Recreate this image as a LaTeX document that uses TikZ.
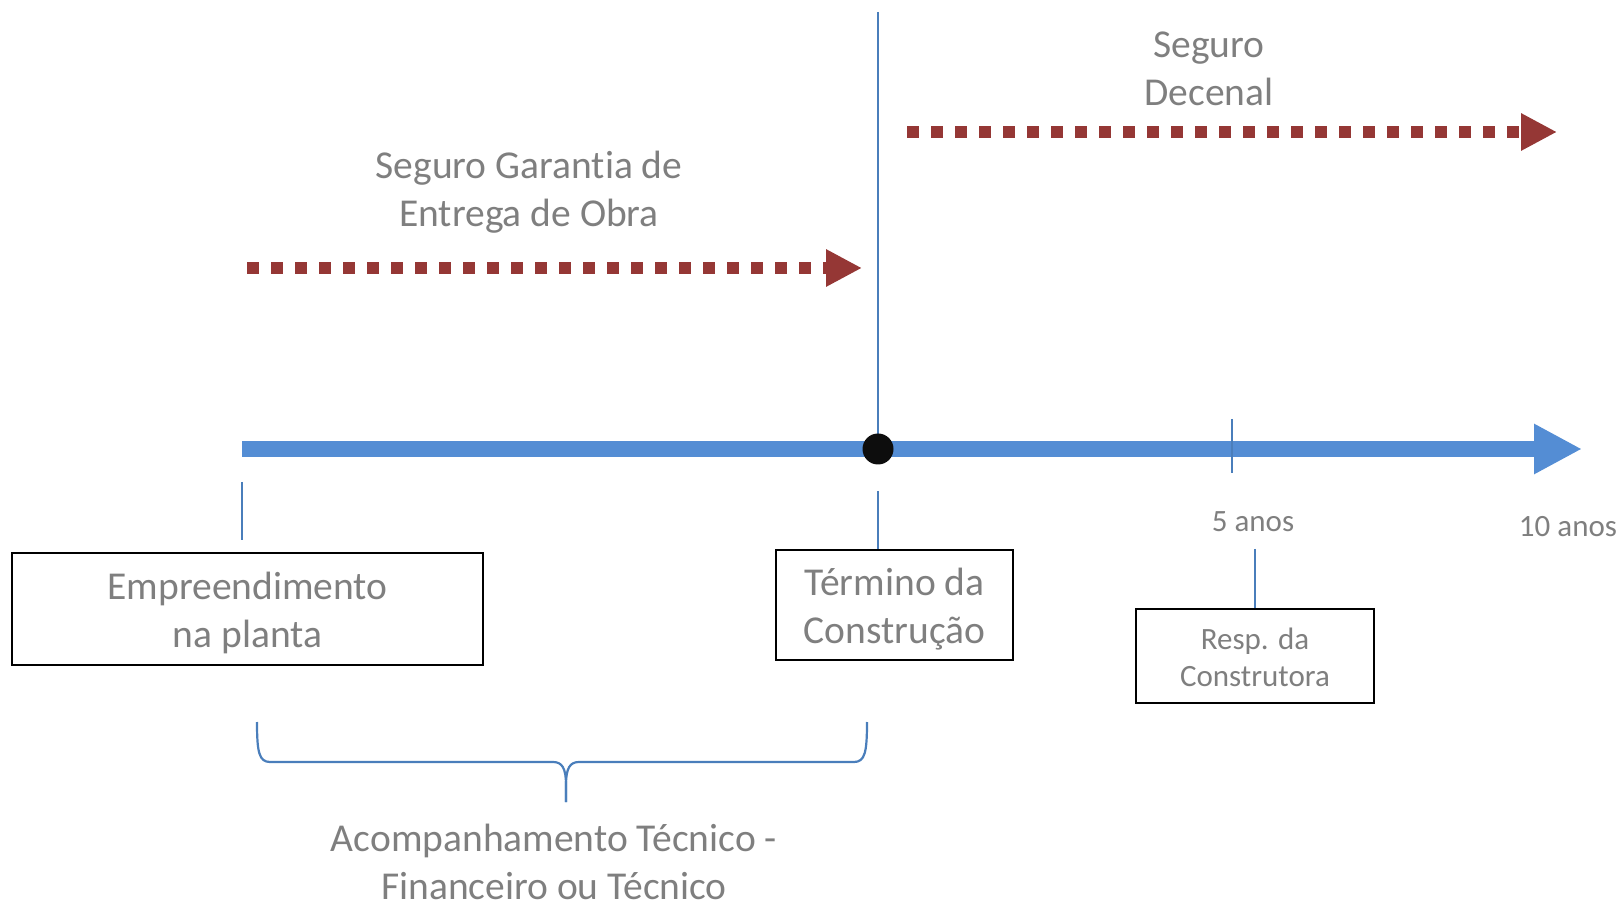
\documentclass[tikz,border=0pt]{standalone}
\usepackage{fontspec}
\setmainfont{Carlito}[Ligatures=NoCommon]
\usetikzlibrary{arrows.meta}
\definecolor{lineblue}{RGB}{84,141,212}
\definecolor{tickblue}{RGB}{74,126,187}
\definecolor{darkred}{RGB}{149,55,53}
\definecolor{textgray}{RGB}{127,127,127}
\begin{document}
\begin{tikzpicture}[x=0.5pt,y=-0.5pt]
\tikzset{
big text/.style={text=textgray,font=\fontsize{19.75pt}{24pt}\selectfont,align=center,inner sep=0},
small text/.style={text=textgray,font=\fontsize{15.5pt}{18.5pt}\selectfont,align=center,inner sep=0},
box node/.style={draw=black,line width=1.2pt,inner sep=0},
tick line/.style={draw=tickblue,line width=1pt},
dot arrow/.style={draw=darkred,line width=6pt,dash pattern=on 6pt off 6pt,-{Triangle[length=18pt,width=17.5pt]}},
time arrow/.style={draw=lineblue,line width=8pt,-{Triangle[length=24pt,width=23.5pt]}},
solid dot/.style={circle,fill={rgb,255:red,13;green,13;blue,13},inner sep=0,minimum size=15.5pt}
}
\useasboundingbox (0,0) rectangle (1623,903);

% time line
\coordinate (t0) at (242,449);
\coordinate (t1) at (1582,449);
\coordinate (top) at (878,12);
\draw[tick line] (top) -- (878,449);
\draw[time arrow] (t0) -- (t1);
\node(dot)[solid dot] at (878,449) {};

% boxes
\node(emp)[box node,minimum width=235.5pt,minimum height=56pt,
  label={[big text,yshift=-2pt]center:Empreendimento\\na planta}] at (247.5,609) {};
\node(term)[box node,minimum width=118.5pt,minimum height=55pt,
  label={[big text,yshift=-2pt]center:Término da\\Construção}] at (894.5,605) {};
\node(resp)[box node,minimum width=119pt,minimum height=47pt,
  label={[small text,yshift=-0.8pt]center:Resp. da\\Construtora}] at (1255,656) {};

% ticks
\coordinate (e1) at (242,482);
\coordinate (e2) at (242,540);
\draw[tick line] (e1) -- (e2);
\coordinate (c1) at (878,491);
\draw[tick line] (c1) -- (c1 |- term.north);
\coordinate (f1) at (1232,419);
\coordinate (f2) at (1232,473);
\draw[tick line] (f1) -- (f2);
\coordinate (r1) at (1255,549);
\draw[tick line] (r1) -- (resp.north);

\node(five)[small text] at (1253,522) {5 anos};
\node(ten)[small text] at (1568,527) {10 anos};

% insurance arrows
\coordinate (g0) at (247,268);
\coordinate (g1) at (862,268);
\draw[dot arrow] (g0) -- (g1);
\node(sga)[big text] at (529,192) {Seguro Garantia de\\Entrega de Obra};
\coordinate (d0) at (907,132);
\coordinate (d1) at (1557,132);
\draw[dot arrow] (d0) -- (d1);
\node(sd)[big text] at (1209,69) {Seguro\\Decenal};

% brace
\coordinate (bl) at (257,722);
\coordinate (br) at (867,722);
\coordinate (bt) at (566,802);
\draw[tick line,line width=1.1pt] (bl) .. controls (257,752) and (259,762) .. (270,762) -- (553,762) .. controls (562,762) and (566,768) .. (566,785) -- (bt);
\draw[tick line,line width=1.1pt] (br) .. controls (867,752) and (865,762) .. (854,762) -- (579,762) .. controls (570,762) and (566,768) .. (566,785) -- (bt);
\node(acomp)[big text] at (554,862) {Acompanhamento Técnico -\\Financeiro ou Técnico};
\end{tikzpicture}
\end{document}
